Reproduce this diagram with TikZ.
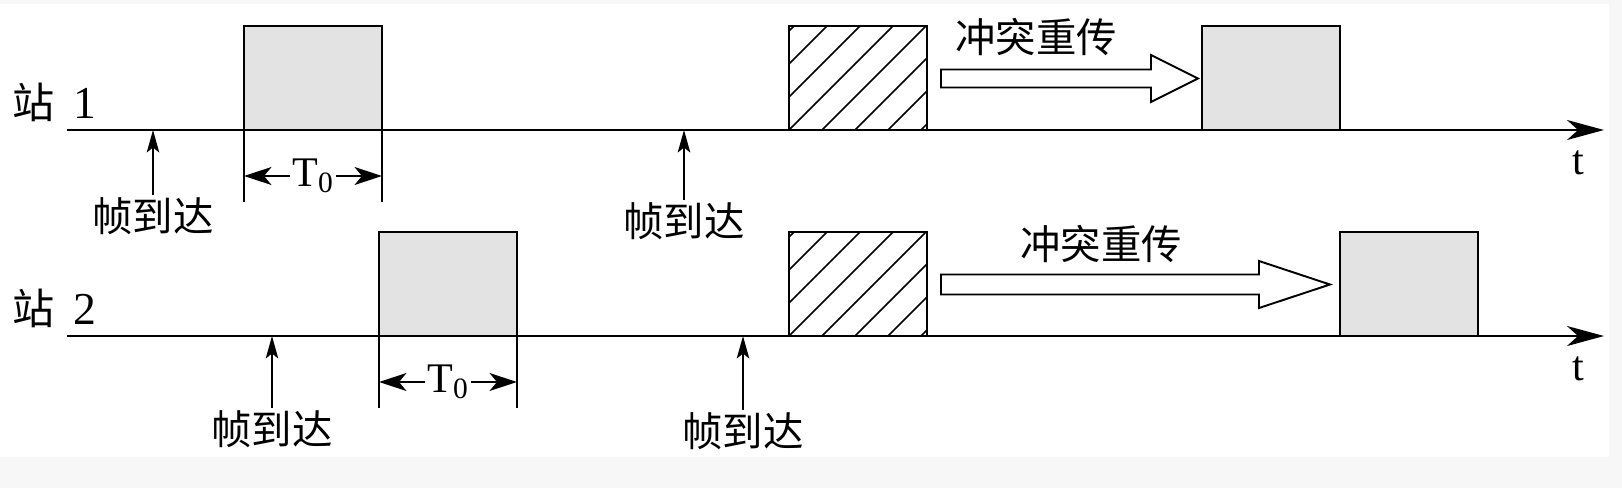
\documentclass[tikz,border=0pt]{standalone}
\usepackage{fontspec}
\setmainfont{Liberation Serif}
\newfontfamily\cjk{Noto Sans CJK SC}
\usetikzlibrary{arrows.meta,positioning}

\begin{document}
\begin{tikzpicture}[x=0.02cm,y=-0.02cm,
        fsty/.style={
            draw,line width=1.1pt,
            minimum width=2.76cm,minimum height=2.08cm,
            inner sep=0pt,outer sep=0pt,anchor=south west,
        },
        gsty/.style={fill=black!11},
        hsty/.style={},
        tsty/.style={font=\cjk\fontsize{23}{27}\selectfont,inner sep=1pt},
        lsty/.style={font=\fontsize{24}{28}\selectfont,inner sep=1pt},
        axsty/.style={line width=1.5pt,-{Stealth[length=0.74cm,width=0.4cm,inset=0.22cm]}},
        upsty/.style={line width=1pt,-{Stealth[length=0.45cm,width=0.25cm,inset=0.1cm]}},
        dimsty/.style={line width=1pt,-{Stealth[length=0.55cm,width=0.36cm,inset=0.15cm]}},
        bigarr/.style={draw,line width=1.1pt,fill=white,line join=miter},
    ]

    \useasboundingbox (0,0) rectangle (1622,488);
    \fill[black!3] (0,0) rectangle (1622,488);
    \fill[white] (0,4) rectangle (1609,457);

    \foreach \s/\oy in {1/130,2/336}{
        \coordinate (s\s) at (67,\oy);
        \coordinate (e\s) at (1604,\oy);
        \draw[axsty] (s\s) -- (e\s);
        \node[lsty] at (1578,\oy+33) (t\s) {t};
        \node[lsty,anchor=base west] at (10,\oy-12) (n\s)
            {{\cjk 站}\hspace{0.38cm}{\fontsize{26}{30}\selectfont\s}};
    }

    \foreach \s/\n/\ox/\oy/\c in {1/0/244/130/gsty,1/1/789/130/hsty,1/2/1202/130/gsty,
                                  2/0/379/336/gsty,2/1/789/336/hsty,2/2/1340/336/gsty}{
        \node[fsty,\c] at (\ox,\oy) (p\s\n) {};
    }

    \foreach \s in {1,2}{
        \begin{scope}
            \clip (p\s1.south west) rectangle (p\s1.north east);
            \foreach \k in {-4,...,4}
                \draw[line width=0.85pt] ([xshift=\k*0.66cm]p\s1.south west) -- ++(160,-160);
        \end{scope}
    }

    \foreach \s in {1,2}{
        \draw[line width=0.9pt] (p\s0.south west) -- ++(0,72) coordinate (dl\s);
        \draw[line width=0.9pt] (p\s0.south east) -- ++(0,72) coordinate (dr\s);
        \node[lsty] at ([yshift=-0.92cm]p\s0.south) (d\s) {T\textsubscript{0}};
        \draw[dimsty] (d\s.west) -- (d\s.west -| dl\s);
        \draw[dimsty] (d\s.east) -- (d\s.east -| dr\s);
    }

    \foreach \s/\n/\ox/\oy/\dy in {1/0/153/130/65,1/1/684/130/70,2/0/272/336/72,2/1/743/336/74}{
        \coordinate (a\s\n) at (\ox,\oy);
        \node[tsty,anchor=north] at (\ox,\oy+\dy) (f\s\n) {帧到达};
        \draw[upsty] (f\s\n) -- (a\s\n);
    }

    \foreach \s/\ox/\hx/\tx/\oy/\w in {1/941/1151/1198/78.5/9,2/941/1259/1330/284.5/10}{
        \draw[bigarr] (\ox,\oy-\w) -- (\hx,\oy-\w) -- (\hx,\oy-23.5) -- (\tx,\oy)
            -- (\hx,\oy+23.5) -- (\hx,\oy+\w) -- (\ox,\oy+\w) -- cycle;
    }
    \node[tsty] at (1036,37) (c1) {冲突重传};
    \node[tsty] at (1101,244) (c2) {冲突重传};

\end{tikzpicture}
\end{document}
